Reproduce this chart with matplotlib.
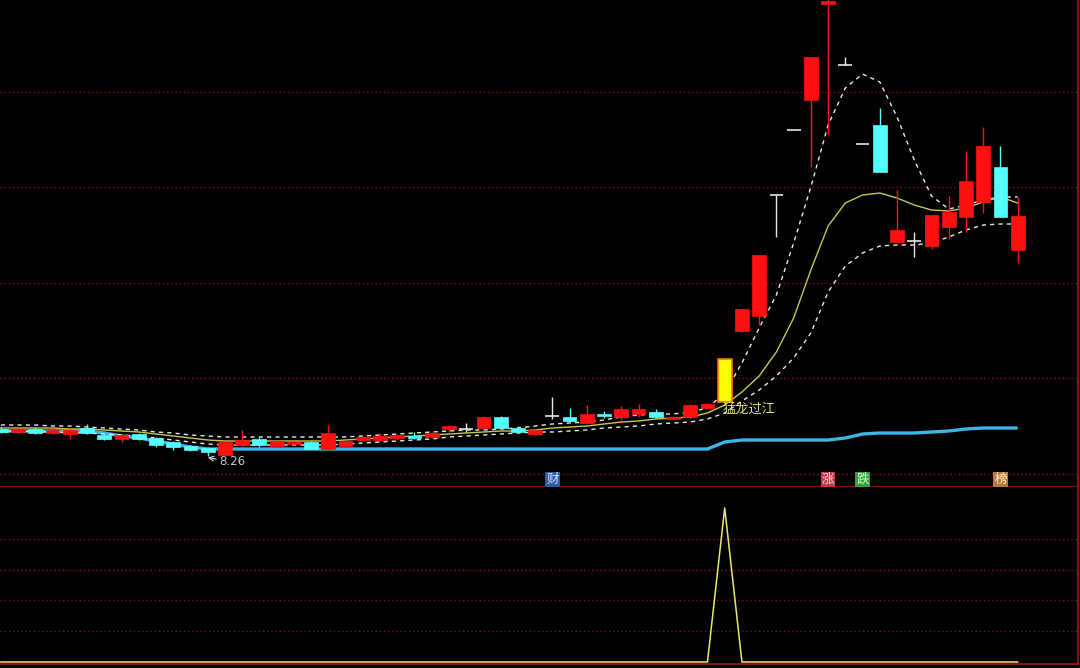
import matplotlib
matplotlib.use('Agg')
import matplotlib.pyplot as plt
from matplotlib.patches import Rectangle

plt.rcParams['font.family'] = ['Noto Sans CJK SC', 'DejaVu Sans']

# ---------------- data ----------------
opens = [8.80, 8.74, 8.80, 8.72, 8.70, 8.82, 8.68, 8.60, 8.70, 8.62,
         8.54, 8.46, 8.42, 8.28, 8.48, 8.60, 8.46, 8.50, 8.54, 8.40,
         8.46, 8.58, 8.58, 8.62, 8.66, 8.64, 8.80, 8.80, 8.82, 9.04,
         8.82, 8.70, 9.06, 9.04, 8.92, 9.10, 9.04, 9.10, 9.14, 9.00,
         9.04, 9.22, 9.34, 10.76, 11.06, 13.48, 14.78, 15.38, 17.30, 16.08,
         14.50, 14.88, 12.54, 12.56, 12.46, 12.84, 13.04, 13.34, 14.04, 12.38]
highs = [8.84, 8.82, 8.84, 8.80, 8.80, 8.90, 8.70, 8.70, 8.72, 8.64,
         8.56, 8.48, 8.44, 8.56, 8.78, 8.64, 8.58, 8.56, 8.56, 8.88,
         8.58, 8.66, 8.72, 8.70, 8.74, 8.74, 8.88, 8.92, 9.06, 9.06,
         8.86, 8.80, 9.44, 9.22, 9.28, 9.16, 9.26, 9.30, 9.20, 9.06,
         9.30, 9.32, 10.20, 11.20, 12.28, 13.48, 14.78, 16.24, 17.40, 16.24,
         14.50, 15.22, 13.58, 12.74, 13.08, 13.46, 14.36, 14.84, 14.46, 13.44]
lows = [8.72, 8.72, 8.70, 8.70, 8.60, 8.70, 8.58, 8.54, 8.58, 8.44,
        8.38, 8.36, 8.26, 8.28, 8.46, 8.44, 8.44, 8.48, 8.40, 8.38,
        8.44, 8.56, 8.56, 8.58, 8.60, 8.62, 8.74, 8.74, 8.80, 8.80,
        8.72, 8.68, 9.00, 8.94, 8.90, 9.02, 8.98, 9.04, 9.02, 8.98,
        9.02, 9.20, 9.34, 10.74, 10.88, 12.64, 14.78, 14.04, 14.68, 16.08,
        14.50, 13.94, 12.54, 12.24, 12.40, 12.60, 12.74, 13.12, 13.04, 12.12]
closes = [8.74, 8.80, 8.72, 8.78, 8.78, 8.72, 8.60, 8.68, 8.60, 8.48,
          8.44, 8.38, 8.34, 8.54, 8.58, 8.48, 8.56, 8.54, 8.40, 8.72,
          8.56, 8.64, 8.66, 8.68, 8.62, 8.72, 8.86, 8.80, 9.04, 8.82,
          8.74, 8.78, 9.06, 8.96, 9.10, 9.06, 9.20, 9.20, 9.04, 9.04,
          9.28, 9.30, 10.20, 11.20, 12.28, 13.48, 14.78, 16.24, 17.36, 16.08,
          14.50, 13.94, 12.78, 12.56, 13.08, 13.14, 13.76, 14.46, 13.04, 13.06]

upper_band = [8.88, 8.88, 8.88, 8.86, 8.86, 8.84, 8.82, 8.80, 8.78, 8.74,
              8.72, 8.68, 8.66, 8.64, 8.64, 8.64, 8.64, 8.64, 8.64, 8.64,
              8.64, 8.66, 8.68, 8.70, 8.72, 8.74, 8.76, 8.78, 8.78, 8.80,
              8.82, 8.86, 8.90, 8.92, 8.94, 8.98, 9.04, 9.08, 9.10, 9.10,
              9.14, 9.22, 9.52, 10.12, 10.82, 11.48, 12.52, 13.64, 14.88, 15.62,
              15.90, 15.74, 15.04, 14.18, 13.46, 13.20, 13.28, 13.38, 13.44, 13.44]
mid_line = [8.82, 8.82, 8.82, 8.82, 8.80, 8.80, 8.78, 8.76, 8.74, 8.70,
            8.66, 8.62, 8.58, 8.56, 8.56, 8.56, 8.56, 8.56, 8.56, 8.56,
            8.58, 8.60, 8.62, 8.64, 8.66, 8.68, 8.70, 8.72, 8.74, 8.76,
            8.76, 8.78, 8.82, 8.84, 8.86, 8.90, 8.94, 8.96, 9.00, 9.02,
            9.04, 9.12, 9.28, 9.54, 9.86, 10.34, 11.02, 11.98, 12.86, 13.32,
            13.48, 13.52, 13.42, 13.28, 13.18, 13.16, 13.22, 13.34, 13.44, 13.32]
lower_band = [8.76, 8.76, 8.74, 8.74, 8.72, 8.72, 8.70, 8.68, 8.66, 8.62,
              8.58, 8.54, 8.50, 8.48, 8.48, 8.48, 8.48, 8.48, 8.48, 8.48,
              8.50, 8.52, 8.54, 8.56, 8.58, 8.60, 8.64, 8.66, 8.68, 8.70,
              8.72, 8.74, 8.74, 8.76, 8.78, 8.82, 8.84, 8.86, 8.90, 8.92,
              8.94, 9.00, 9.12, 9.36, 9.58, 9.86, 10.22, 10.72, 11.54, 12.06,
              12.32, 12.46, 12.48, 12.48, 12.52, 12.64, 12.78, 12.88, 12.90, 12.90]
support = [8.76, 8.76, 8.76, 8.76, 8.76, 8.76, 8.72, 8.66, 8.62, 8.56,
           8.50, 8.44, 8.40, 8.40, 8.40, 8.40, 8.40, 8.40, 8.40, 8.40,
           8.40, 8.40, 8.40, 8.40, 8.40, 8.40, 8.40, 8.40, 8.40, 8.40,
           8.40, 8.40, 8.40, 8.40, 8.40, 8.40, 8.40, 8.40, 8.40, 8.40,
           8.40, 8.40, 8.54, 8.58, 8.58, 8.58, 8.58, 8.58, 8.58, 8.62,
           8.70, 8.72, 8.72, 8.72, 8.74, 8.76, 8.80, 8.82, 8.82, 8.82]
signal = [0] * 42 + [1] + [0] * 17
signal_index = 42
signal_label = "猛龙过江"
low_label = "8.26"
low_index = 12
price_grid = [15.54, 13.64, 11.72, 9.82, 7.90]
signal_grid = [0.2, 0.4, 0.6, 0.8]
mark_texts = ["财", "涨", "跌", "榜"]
mark_index = [32, 48, 50, 58]
mark_bg = ['#2d5aa0', '#c0384c', '#3c9c3c', '#b87a3c']
mark_fg = ['#d8e6ff', '#ffd8dc', '#dcffd8', '#ffe8c8']

# ---------------- figure ----------------
W, H = 1080, 668
fig = plt.figure(figsize=(W / 100, H / 100), dpi=100, facecolor='black')
right = 1078 / W
ax = fig.add_axes([0, 1 - 487 / H, right, 487 / H])
ax2 = fig.add_axes([0, 1 - 664 / H, right, (664 - 487) / H])

red = '#ff1010'
cyan = '#54ffff'
white = '#e6e6e6'
gridc = '#8a1010'
n = len(opens)
xmin, xmax = -0.05, 62.5

for a in (ax, ax2):
    a.set_facecolor('black')
    a.set_xlim(xmin, xmax)
    a.set_xticks([])
    a.set_yticks([])
    for s in ('left', 'top'):
        a.spines[s].set_visible(False)
    for s in ('right', 'bottom'):
        a.spines[s].set_color('#a01818')
        a.spines[s].set_linewidth(1.2)

ax.set_ylim(7.64, 17.38)
for g in price_grid:
    ax.axhline(g, color=gridc, lw=1, ls=(0, (1, 2)), zorder=0)

# bands and lines
xs = list(range(n))
ax.plot(xs, support, color='#3cb4e4', lw=2.4, zorder=2, solid_capstyle='butt')
ax.plot(xs, upper_band, color='#e8e8e8', lw=1, ls=(0, (3, 3)), zorder=3)
ax.plot(xs, lower_band, color='#e8e8e8', lw=1, ls=(0, (3, 3)), zorder=3)
ax.plot(xs, mid_line, color='#c8c850', lw=1, zorder=3)

bw = 0.8
for i in range(n):
    o, h, l, c = opens[i], highs[i], lows[i], closes[i]
    if i == signal_index:
        ax.vlines(i, l, h, color='#ff8000', lw=1, zorder=4)
        ax.add_patch(Rectangle((i - bw / 2, min(o, c)), bw, abs(c - o),
                               facecolor='#ffff00', edgecolor='#ff7000', lw=1.2, zorder=5))
        continue
    if c > o:
        col = red
    elif c < o:
        col = cyan
    else:
        col = white
    ax.vlines(i, l, h, color=col, lw=1, zorder=4)
    if c != o:
        ax.add_patch(Rectangle((i - bw / 2, min(o, c)), bw, abs(c - o),
                               facecolor=col, edgecolor=col, lw=0.5, zorder=5))
    else:
        ax.hlines(o, i - bw / 2, i + bw / 2, color=col, lw=1.2, zorder=5)

# annotations
ax.annotate(low_label, xy=(low_index, lows[low_index] - 0.03),
            xytext=(low_index + 0.65, lows[low_index] - 0.12),
            color='#c8c8c8', fontsize=8.5, ha='left', va='center',
            family=['DejaVu Sans'],
            arrowprops=dict(arrowstyle='->', color='#c8c8c8', lw=0.9,
                            shrinkA=0, shrinkB=0))
ax.text(signal_index - 0.1, 9.20, signal_label, color='#e0e070', fontsize=9.5,
        ha='left', va='center', zorder=6)
for t, i, bg, fg in zip(mark_texts, mark_index, mark_bg, mark_fg):
    ax.text(i, 7.80, t, color=fg, fontsize=9, ha='center', va='center', zorder=6,
            bbox=dict(boxstyle='square,pad=0.08', fc=bg, ec='none'))

# lower panel
ax2.set_ylim(-0.013, 1.136)
for g in signal_grid:
    ax2.axhline(g, color=gridc, lw=1, ls=(0, (1, 2)), zorder=0)
ax2.plot(xs, signal, color='#e8e870', lw=1.1, zorder=3)

fig.savefig('out.png', dpi=100, facecolor='black')
